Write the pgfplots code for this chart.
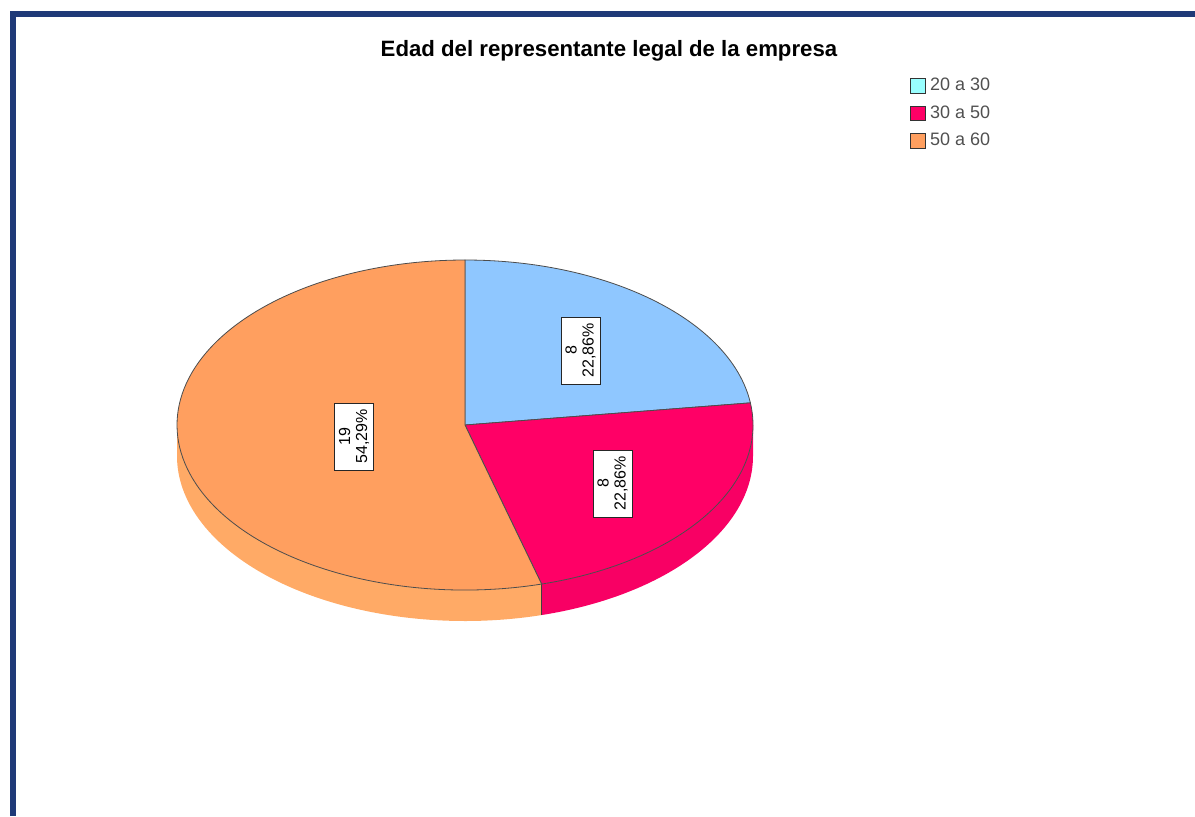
\documentclass[border=0pt]{standalone}
\usepackage{pgfplots}
\pgfplotsset{compat=1.18}
\usepackage{pgfplotstable}
\usepackage{fontspec}
\setmainfont{Liberation Sans}
\definecolor{sliceA}{HTML}{8FC7FF}
\definecolor{legA}{HTML}{99FFFF}
\definecolor{sliceB}{HTML}{FF0066}
\definecolor{sliceC}{HTML}{FF9F5F}
\definecolor{wallC}{HTML}{FFAA66}
\definecolor{wallB}{HTML}{F80064}
\definecolor{navy}{HTML}{1F3A78}
\definecolor{legtext}{HTML}{505050}
\pgfplotstableread{
count
8
8
19
}\piedata
\begin{document}
\begin{tikzpicture}
\useasboundingbox (0,0) rectangle (597.5pt,408pt);
\pgfplotstablegetelem{0}{count}\of\piedata \let\cA\pgfplotsretval
\pgfplotstablegetelem{1}{count}\of\piedata \let\cB\pgfplotsretval
\pgfplotstablegetelem{2}{count}\of\piedata \let\cC\pgfplotsretval
\pgfmathsetmacro\tot{\cA+\cB+\cC}
\pgfmathsetmacro\aA{90-360*\cA/\tot}
\pgfmathsetmacro\aB{\aA-360*\cB/\tot}
\pgfmathsetmacro\aBw{\aB+360}
\begin{axis}[
  scale only axis, width=597.5pt, height=408pt,
  xmin=0, xmax=1195, ymin=0, ymax=816, y dir=reverse,
  hide axis, clip=false, at={(0,408pt)}, anchor=origin,
  legend style={draw=none, fill=none, at={(axis cs:910,74)}, anchor=north west,
    font=\fontsize{9}{10}\selectfont\color{legtext}, inner sep=0pt, row sep=1.8pt,
    cells={anchor=west}},
  legend image code/.code={\draw[#1] (0pt,-3.7pt) rectangle (7.5pt,3.7pt);},
]
\addlegendimage{fill=legA, draw=black!80}
\addlegendentry{20 a 30}
\addlegendimage{fill=sliceB, draw=black!80}
\addlegendentry{30 a 50}
\addlegendimage{fill=sliceC, draw=black!80}
\addlegendentry{50 a 60}
% side walls
\fill[wallC] (axis cs:177,425) arc[start angle=180, end angle=\aBw, x radius=144pt, y radius=82.5pt]
  -- ++(0,-15.5pt) arc[start angle=\aBw, end angle=180, x radius=144pt, y radius=82.5pt] -- cycle;
\fill[wallB] (axis cs:{465+288*cos(\aB)},{425-165*sin(\aB)}) arc[start angle=\aBw, end angle=360, x radius=144pt, y radius=82.5pt]
  -- ++(0,-15.5pt) arc[start angle=360, end angle=\aBw, x radius=144pt, y radius=82.5pt] -- cycle;
\draw[black!75, line width=0.5pt] (axis cs:{465+288*cos(\aB)},{425-165*sin(\aB)}) -- ++(0,-15.5pt);
% top slices
\filldraw[fill=sliceA, draw=black!70, line width=0.4pt] (axis cs:465,425) -- (axis cs:465,260)
  arc[start angle=90, end angle=\aA, x radius=144pt, y radius=82.5pt] -- cycle;
\filldraw[fill=sliceB, draw=black!70, line width=0.4pt] (axis cs:465,425) -- (axis cs:{465+288*cos(\aA)},{425-165*sin(\aA)})
  arc[start angle=\aA, end angle=\aB, x radius=144pt, y radius=82.5pt] -- cycle;
\filldraw[fill=sliceC, draw=black!70, line width=0.4pt] (axis cs:465,425) -- (axis cs:{465+288*cos(\aB)},{425-165*sin(\aB)})
  arc[start angle=\aB, end angle=-270, x radius=144pt, y radius=82.5pt] -- cycle;
% labels
\tikzset{lab/.style={draw=black!85, fill=white, rotate=90, align=center, font=\fontsize{8}{8.5}\selectfont,
  minimum width=33.5pt, minimum height=19.5pt, inner sep=1pt, line width=0.5pt}}
\node[lab] at (axis cs:580.5,350.5) {8\\22,86\%};
\node[lab] at (axis cs:612.5,483.5) {8\\22,86\%};
\node[lab] at (axis cs:354,436.5) {19\\54,29\%};
% title
\node[font=\bfseries\fontsize{11.1}{12}\selectfont] at (axis cs:609,51) {Edad del representante legal de la empresa};
% frame
\draw[navy, line width=3pt, line join=miter] (axis cs:12.5,816) -- (axis cs:12.5,14) -- (axis cs:1195,14);
\end{axis}
\end{tikzpicture}
\end{document}
